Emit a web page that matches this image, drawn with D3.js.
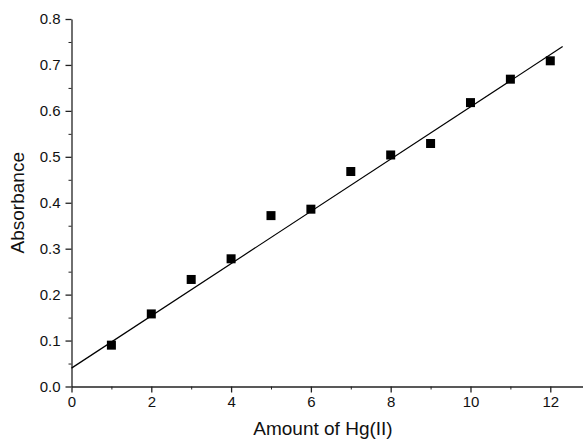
<!DOCTYPE html>
<html>
<head>
<meta charset="utf-8">
<script src="https://cdn.jsdelivr.net/npm/d3@7"></script>
<style>
  body { margin: 0; background: #fff; }
  text { font-family: "Liberation Sans", Arial, sans-serif; }
</style>
</head>
<body>
<div id="chart"></div>
<script>
// Absorbance vs amount of Hg(II)
const amounts = [1, 2, 3, 4, 5, 6, 7, 8, 9, 10, 11, 12];
const absorbance = [0.090, 0.158, 0.233, 0.278, 0.372, 0.386, 0.468, 0.504, 0.529, 0.618, 0.669, 0.709];
// linear fit, end points
const fitX = [0, 12.31];
const fitY = [0.040, 0.740];
const xTicks = [0, 2, 4, 6, 8, 10, 12];
const yTicks = [0.0, 0.1, 0.2, 0.3, 0.4, 0.5, 0.6, 0.7, 0.8];

const width = 583, height = 442;
const margin = {top: 19, right: 0, bottom: 55.5, left: 71.5};

const svg = d3.select("#chart").append("svg")
    .attr("width", width)
    .attr("height", height);

const x = d3.scaleLinear()
    .domain([0, 12.82])
    .range([margin.left, width - margin.right]);

const y = d3.scaleLinear()
    .domain([0, 0.8])
    .range([height - margin.bottom, margin.top]);

// minor ticks first
const xMinor = d3.range(1, 13, 2);
const yMinor = d3.range(0.05, 0.8, 0.1);

svg.append("g")
    .attr("transform", `translate(0,${y(0)})`)
    .call(d3.axisBottom(x).tickValues(xMinor).tickSize(3).tickFormat(""))
    .call(g => g.select(".domain").remove())
    .selectAll("line").attr("stroke", "#222");

svg.append("g")
    .attr("transform", `translate(${x(0)},0)`)
    .call(d3.axisLeft(y).tickValues(yMinor).tickSize(3).tickFormat(""))
    .call(g => g.select(".domain").remove())
    .selectAll("line").attr("stroke", "#222");

// major axes
const xAxis = svg.append("g")
    .attr("transform", `translate(0,${y(0)})`)
    .call(d3.axisBottom(x).tickValues(xTicks).tickSize(6).tickSizeOuter(0).tickPadding(4).tickFormat(d3.format("d")));

const yAxis = svg.append("g")
    .attr("transform", `translate(${x(0)},0)`)
    .call(d3.axisLeft(y).tickValues(yTicks).tickSize(6).tickSizeOuter(0).tickPadding(5).tickFormat(d3.format(".1f")));

[xAxis, yAxis].forEach(g => {
    g.attr("font-size", null).attr("font-family", null);
    g.select(".domain").attr("stroke", "#222").attr("stroke-width", 1.3);
    g.selectAll("line").attr("stroke", "#222").attr("stroke-width", 1.3);
    g.selectAll("text")
        .style("font-size", "15px")
        .attr("fill", "#111")
        .style("font-family", "'Liberation Sans', Arial, sans-serif");
});

// fit line
const line = d3.line()
    .x(d => x(d[0]))
    .y(d => y(d[1]));

svg.append("path")
    .datum(fitX.map((v, i) => [v, fitY[i]]))
    .attr("d", line)
    .attr("fill", "none")
    .attr("stroke", "#000")
    .attr("stroke-width", 1.2);

// data points
const size = 9;
svg.selectAll(".pt")
    .data(amounts.map((v, i) => ({x: v, y: absorbance[i]})))
    .enter().append("rect")
    .attr("class", "pt")
    .attr("x", d => x(d.x) - size / 2)
    .attr("y", d => y(d.y) - size / 2)
    .attr("width", size)
    .attr("height", size)
    .attr("fill", "#000");

// axis titles
svg.append("text")
    .attr("x", 323)
    .attr("y", 435)
    .attr("text-anchor", "middle")
    .style("font-size", "19px")
    .attr("fill", "#111")
    .text("Amount of Hg(II)");

svg.append("text")
    .attr("transform", `translate(24,${(y(0) + y(0.8)) / 2}) rotate(-90)`)
    .attr("text-anchor", "middle")
    .style("font-size", "19px")
    .attr("fill", "#111")
    .text("Absorbance");
</script>
</body>
</html>
